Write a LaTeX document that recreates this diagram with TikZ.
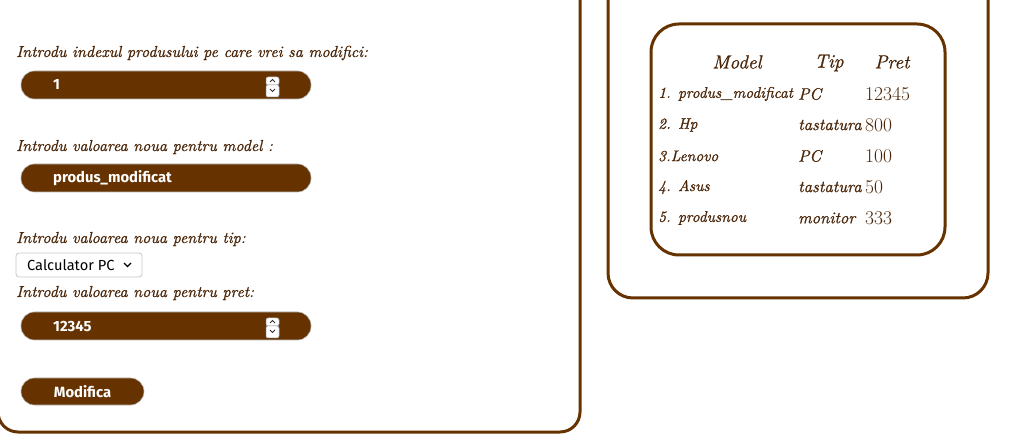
\documentclass[tikz,border=0pt]{standalone}
\usepackage{fontspec}
\newfontfamily\uifont{Fira Sans}
\newfontfamily\scr{lmroman10-italic.otf}[FakeBold=0.8]
\definecolor{brn}{HTML}{663300}
\definecolor{ink}{HTML}{4A2508}

\begin{document}
\begin{tikzpicture}[x=1pt,y=-1pt,
	P/.style={line width=3pt, draw=brn, rounded corners=#1},
	F/.style={draw=gray!55, fill=brn, line width=0.6pt, rounded corners=13.5pt},
	lbl/.style={anchor=base west, inner sep=0pt, text=ink, font=\scr\fontsize{15.9}{18}\selectfont},
	val/.style={anchor=west, inner sep=0pt, text=white, font=\uifont\bfseries\fontsize{14.8}{16}\selectfont},
	cell/.style={anchor=west, inner sep=0pt, text=ink, font=\scr\fontsize{#1}{18}\selectfont},
	head/.style={inner sep=0pt, text=ink, font=\scr\fontsize{19}{21}\selectfont}]
	\useasboundingbox (0,0) rectangle (1009,443);
	
	% panels
	\draw[P=20pt] (-2,-40) rectangle (580,432);
	\draw[P=25pt] (608,-40) rectangle (988,298);
	\draw[P=28pt] (651,24) rectangle (945,255);
	
	% form labels
	\node[lbl] (l1) at (16,57) {Introdu indexul produsului pe care vrei sa modifici:};
	\node[lbl] (l2) at (16,151) {Introdu valoarea noua pentru model :};
	\node[lbl] (l3) at (16,243) {Introdu valoarea noua pentru tip:};
	\node[lbl] (l4) at (16,297) {Introdu valoarea noua pentru pret:};
	
	% input fields
	\draw[F] (21,71) rectangle (311,99);
	\draw[F] (21,164) rectangle (311,192);
	\draw[F] (21,312) rectangle (311,340);
	\draw[F] (21,378) rectangle (144,405);
	\node[val] (v1) at (53,85) {1};
	\node[val] (v2) at (53,178) {produs\_modificat};
	\node[val] (v3) at (53,326) {12345};
	\node[val, anchor=center] (btn) at (82.5,391.5) {Modifica};
	
	% spinners
	\foreach \y in {85,326}{
		\draw[fill=white, draw=gray!70, line width=0.5pt, rounded corners=2pt] (266,\y-8) rectangle (279,\y);
		\draw[fill=white, draw=gray!70, line width=0.5pt, rounded corners=2pt] (266,\y) rectangle (279,\y+12);
		\draw[line width=0.8pt, black!80] (270,\y-3) -- (272.5,\y-5.5) -- (275,\y-3);
		\draw[line width=0.8pt, black!80] (270,\y+4) -- (272.5,\y+6.5) -- (275,\y+4);
	}
	
	% select box
	\draw[fill=white, draw=gray!45, line width=0.8pt, rounded corners=3pt] (16,253) rectangle (142,277);
	\node[anchor=west, inner sep=0pt, font=\uifont\fontsize{14.6}{16}\selectfont] (sel) at (27,265.5) {Calculator PC};
	\draw[line width=1.1pt] (124,263) -- (127.5,266.5) -- (131,263);
	
	% table
	\node[head] (hm) at (737,62) {Model};
	\node[head] (ht) at (829,63) {Tip};
	\node[head] (hp) at (892,62) {Pret};
	\foreach \n/\t/\p [count=\i] in {1. produs\_modificat/PC/12345, 2. Hp/tastatura/800, 3.Lenovo/PC/100, 4. Asus/tastatura/50, 5. produsnou/monitor/333}{
		\node[cell=15.4] (m\i) at (658,{94+31*(\i-1)}) {\n};
		\node[cell=16.5] (t\i) at (798,{94+31*(\i-1)}) {\t};
		\node[cell=19, font=\fontsize{19.5}{21}\selectfont] (p\i) at (865,{94+31*(\i-1)}) {\p};
	}
\end{tikzpicture}
\end{document}
